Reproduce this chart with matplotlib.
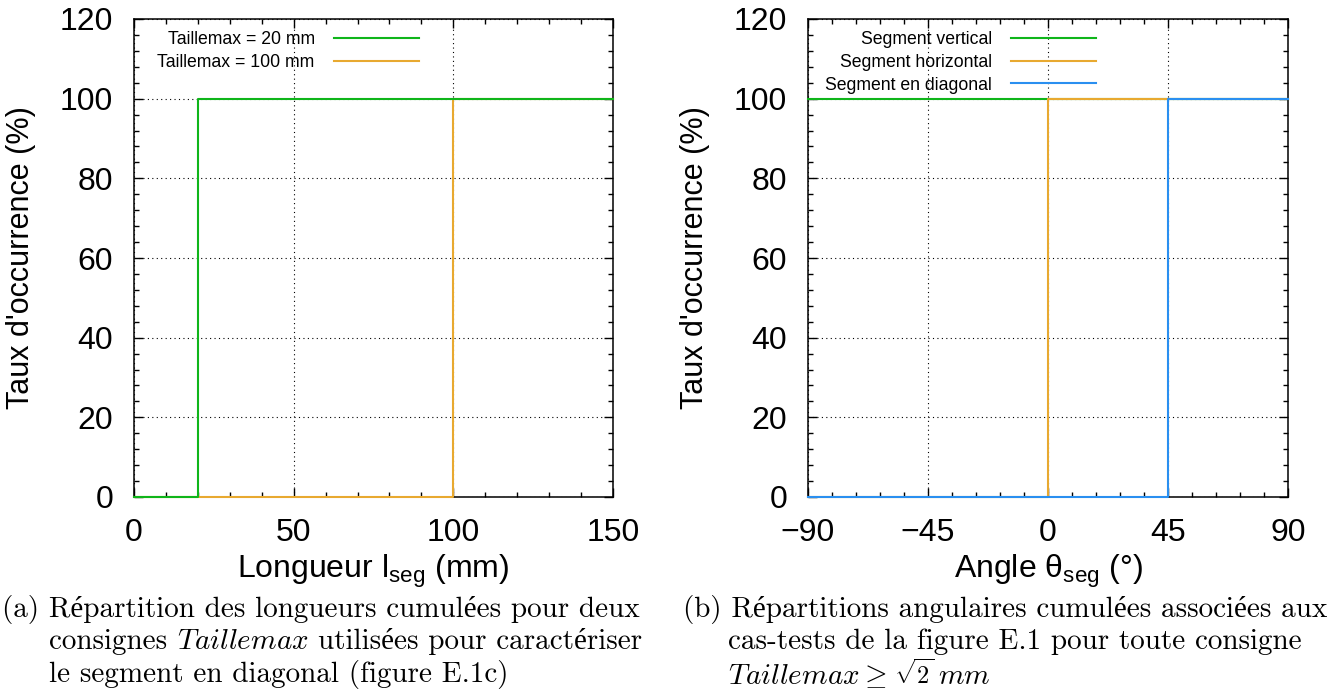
import matplotlib
matplotlib.use("Agg")
import matplotlib.pyplot as plt
from matplotlib.ticker import MultipleLocator

W, H = 1337, 698

# ---------------- data ----------------
len_x = [0, 20, 100, 150]
taille20 = [0, 100, 100, 100]          # Taillemax = 20 mm
taille100 = [0, 0, 100, 100]           # Taillemax = 100 mm
len_labels = ["Taillemax = 20 mm", "Taillemax = 100 mm"]

ang_x = [-90, 0, 45, 90]
seg_vertical = [100, 100, 100, 100]
seg_horizontal = [0, 100, 100, 100]
seg_diagonal = [0, 0, 100, 100]
ang_labels = ["Segment vertical", "Segment horizontal", "Segment en diagonal"]

len_ticks = [0, 50, 100, 150]
ang_ticks = [-90, -45, 0, 45, 90]
y_ticks = [0, 20, 40, 60, 80, 100, 120]

GREEN = "#0fb51a"
ORANGE = "#e8a930"
BLUE = "#2a8ff0"

SANS = "Liberation Sans"
TICK_FS = 23
LEG_FS = 12.7
CAP_FS = 21

fig = plt.figure(figsize=(W / 100, H / 100), dpi=100)


def px_axes(x0, x1, ytop, ybot):
    return fig.add_axes([x0 / W, 1 - ybot / H, (x1 - x0) / W, (ybot - ytop) / H])


def style(ax, xticks, xminor):
    ax.set_ylim(0, 120)
    ax.set_yticks(y_ticks)
    ax.yaxis.set_minor_locator(MultipleLocator(4))
    ax.set_xticks(xticks)
    ax.xaxis.set_minor_locator(MultipleLocator(xminor))
    ax.tick_params(which="both", direction="in", top=True, right=True, width=1.0,
                   colors="black")
    ax.tick_params(which="major", length=6.5, labelsize=TICK_FS, pad=15)
    ax.tick_params(which="minor", length=3.6)
    for lab in ax.get_xticklabels() + ax.get_yticklabels():
        lab.set_fontfamily(SANS)
    ax.grid(True, which="major", color="black", linestyle=(0, (1, 3)), linewidth=0.8)
    for s in ax.spines.values():
        s.set_linewidth(1.1)
        s.set_zorder(2.5)
    ax.set_ylabel("Taux d'occurrence (%)", fontsize=22, family=SANS, labelpad=17)


leg_kw = dict(loc="upper right", bbox_transform=fig.transFigure, frameon=False,
              markerfirst=False, handlelength=4.8 * 17.7 / (LEG_FS * 100 / 72),
              handletextpad=1.1, labelspacing=0.33, borderpad=0, borderaxespad=0,
              prop={"family": SANS, "size": LEG_FS})

# ---------------- left plot ----------------
ax1 = px_axes(134, 613, 19, 497)
l2 = ax1.step(len_x, taille100, where="post", color=ORANGE, lw=1.5, zorder=3,
              clip_on=False)[0]
l1 = ax1.step(len_x, taille20, where="post", color=GREEN, lw=1.5, zorder=3.1,
              clip_on=False)[0]
ax1.set_xlim(0, 150)
style(ax1, len_ticks, 10)
ax1.set_xlabel(r"Longueur l$_{\mathregular{seg}}$ (mm)", fontsize=TICK_FS, family=SANS,
               labelpad=3)
ax1.legend([l1, l2], len_labels, bbox_to_anchor=(419 / W, 1 - 31 / H), **leg_kw)

# ---------------- right plot ----------------
ax2 = px_axes(808, 1288, 19, 497)
h1 = ax2.step(ang_x, seg_vertical, where="post", color=GREEN, lw=1.5, zorder=3,
              clip_on=False)[0]
h2 = ax2.step(ang_x, seg_horizontal, where="post", color=ORANGE, lw=1.5, zorder=3.1,
              clip_on=False)[0]
h3 = ax2.step(ang_x, seg_diagonal, where="post", color=BLUE, lw=1.5, zorder=3.2,
              clip_on=False)[0]
ax2.set_xlim(-90, 90)
style(ax2, ang_ticks, 9)
ax2.set_xlabel(r"Angle θ$_{\mathregular{seg}}$ (°)", fontsize=TICK_FS, family=SANS,
               labelpad=3)
ax2.legend([h1, h2, h3], ang_labels, bbox_to_anchor=(1096 / W, 1 - 31 / H), **leg_kw)

# ---------------- captions ----------------
cap_kw = dict(family=["cmr10", "Liberation Serif"], math_fontfamily="cm",
              va="baseline", ha="left")
renderer = fig.canvas.get_renderer()
EM = CAP_FS * 100 / 72


def runs(x_px, base_px, pieces):
    """Place a line made of consecutive pieces: (text, fontsize, gap_after_in_em)."""
    x = x_px
    for s, fs, gap in pieces:
        t = fig.text(x / W, 1 - base_px / H, s, fontsize=fs, **cap_kw)
        x += t.get_window_extent(renderer).width + gap * EM


caption_a = [
    [("(a) Répartition des longueurs cumulées pour deux", CAP_FS, 0)],
    [("consignes", CAP_FS, 0.333), (r"$Taillemax$", CAP_FS, 0.333),
     ("utilisées pour caractériser", CAP_FS, 0)],
    [("le segment en diagonal (figure E.1c)", CAP_FS, 0)],
]
caption_b = [
    [("(b) Répartitions angulaires cumulées associées aux", CAP_FS, 0)],
    [("cas-tests de la figure E.1 pour toute consigne", CAP_FS, 0)],
    [(r"$Taillemax \geq$", CAP_FS, 0.25), (r"$\sqrt{2}$", 17.5, 0.15),
     (r"$mm$", CAP_FS, 0)],
]
baselines_a = [617, 649, 682]
baselines_b = [617, 649, 684]
for i, (ta, tb) in enumerate(zip(caption_a, caption_b)):
    xa = 2 if i == 0 else 49
    xb = 683 if i == 0 else 728
    runs(xa, baselines_a[i], ta)
    runs(xb, baselines_b[i], tb)

fig.savefig("out.png", dpi=100)
